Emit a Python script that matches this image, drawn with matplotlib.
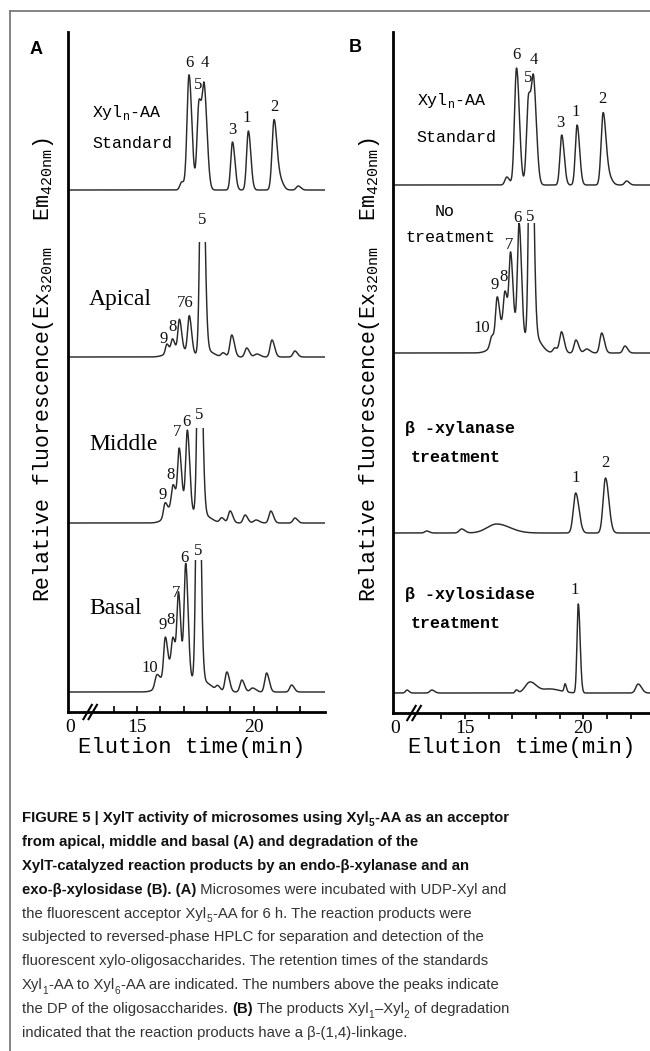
import numpy as np
import matplotlib
matplotlib.use("Agg")
import matplotlib.pyplot as plt
import matplotlib.transforms as mtransforms
from matplotlib.lines import Line2D
from matplotlib.patches import Rectangle
from matplotlib import font_manager

W, H = 650, 1051

# ---------------- peak tables ----------------
# (retention time in min, height in relative units, width in min)
# the last entries of the crowded traces are the broad unresolved hump / tail

# panel A - Xyl_n-AA standard
a_std_t = [16.92, 17.23, 17.66, 17.89, 19.09, 19.77, 20.87, 21.12, 21.90]
a_std_h = [8, 115, 88, 92, 48, 59, 70, 10, 4]
a_std_w = [0.08, 0.085, 0.085, 0.085, 0.075, 0.075, 0.085, 0.10, 0.08]

# panel A - apical
a_api_t = [16.28, 16.52, 16.82, 17.24, 17.78, 18.69, 19.06, 19.70, 20.13, 20.78, 21.76, 16.70, 18.00]
a_api_h = [9, 11, 30, 37, 260, 4, 22, 9, 3, 17, 6, 8, 6]
a_api_w = [0.06, 0.06, 0.065, 0.07, 0.08, 0.08, 0.08, 0.08, 0.10, 0.08, 0.08, 0.35, 0.20]

# panel A - middle
a_mid_t = [16.20, 16.54, 16.81, 17.16, 17.67, 18.63, 18.99, 19.63, 20.10, 20.73, 21.76, 16.75, 17.95]
a_mid_h = [13, 18, 51, 76, 260, 5, 12, 8, 3, 12, 5, 24, 6]
a_mid_w = [0.065, 0.065, 0.065, 0.07, 0.08, 0.08, 0.08, 0.08, 0.10, 0.08, 0.08, 0.35, 0.20]

# panel A - basal
a_bas_t = [15.85, 16.21, 16.54, 16.78, 17.09, 17.61, 18.46, 18.85, 19.49, 19.95, 20.55, 21.62, 16.60, 17.95]
a_bas_h = [12, 36, 25, 71, 108, 300, 5, 20, 12, 4, 19, 7, 30, 8]
a_bas_w = [0.08, 0.065, 0.065, 0.065, 0.07, 0.078, 0.08, 0.08, 0.08, 0.10, 0.08, 0.08, 0.40, 0.20]

# panel B - Xyl_n-AA standard
b_std_t = [16.77, 17.18, 17.69, 17.91, 19.09, 19.74, 20.84, 21.08, 21.83]
b_std_h = [8, 117, 88, 92, 50, 60, 72, 8, 4]
b_std_w = [0.08, 0.085, 0.085, 0.085, 0.075, 0.075, 0.085, 0.10, 0.08]

# panel B - no treatment
b_no_t = [16.13, 16.36, 16.69, 16.93, 17.29, 17.78, 18.80, 19.08, 19.69, 20.14, 20.78, 21.76, 16.80, 18.00]
b_no_h = [9, 38, 31, 69, 108, 300, 5, 21, 13, 4, 20, 7, 32, 12]
b_no_w = [0.07, 0.065, 0.065, 0.065, 0.07, 0.078, 0.08, 0.08, 0.08, 0.10, 0.08, 0.08, 0.40, 0.18]

# panel B - beta-xylanase treatment
b_xyn_t = [13.38, 14.86, 16.34, 19.68, 20.94]
b_xyn_h = [2, 4, 9, 40, 55]
b_xyn_w = [0.08, 0.10, 0.40, 0.10, 0.10]

# panel B - beta-xylosidase treatment
b_xyl_t = [12.55, 13.60, 17.17, 17.75, 18.60, 19.23, 19.79, 22.32]
b_xyl_h = [3, 3, 3, 11, 4, 8, 89, 9]
b_xyl_w = [0.06, 0.08, 0.05, 0.20, 0.30, 0.04, 0.055, 0.10]

# peak number labels: text, time, level
a_std_lab = (["6", "4", "5", "3", "1", "2"],
             [17.23, 17.92, 17.64, 19.09, 19.71, 20.87],
             [649, 649, 627, 582, 594, 605])
a_api_lab = (["9", "8", "76", "5"], [16.13, 16.51, 17.06, 17.79], [373, 385, 409, 492])
a_mid_lab = (["9", "8", "7", "6", "5"], [16.12, 16.46, 16.72, 17.11, 17.66], [217, 237, 280, 290, 297])
a_bas_lab = (["10", "9", "8", "7", "6", "5"],
             [15.53, 16.08, 16.42, 16.68, 17.02, 17.62], [44, 87, 92, 119, 154, 161])
b_std_lab = (["6", "4", "5", "3", "1", "2"],
             [17.18, 17.91, 17.65, 19.01, 19.69, 20.82],
             [658, 653, 635, 590, 601, 614])
b_no_lab = (["10", "9", "8", "7", "6", "5"],
            [15.71, 16.27, 16.62, 16.86, 17.23, 17.75], [385, 428, 436, 468, 495, 496])
b_xyn_lab = (["1", "2"], [19.68, 20.94], [235, 250])
b_xyl_lab = (["1"], [19.65], [123])

sample_a = ["Apical", "Middle", "Basal"]
ticks_min = [14, 15, 16, 17, 18, 19, 20, 21, 22]
tick_txt = ["", "15", "", "", "", "", "20", "", ""]

# ---------------- helpers ----------------
def chrom(t, cen, hgt, wid, tail=1.4):
    y = np.zeros_like(t)
    for c, h, w in zip(cen, hgt, wid):
        s = np.where(t < c, w, w * tail)
        y += h * np.exp(-0.5 * ((t - c) / s) ** 2)
    return y

def px_ax(l, t, r, b):
    return [l / W, 1 - b / H, (r - l) / W, (b - t) / H]

mono = "Liberation Mono"
serif = "Liberation Serif"
line_c = "#2a2a2a"

fig = plt.figure(figsize=(W / 100, H / 100), dpi=100)
fig.patch.set_facecolor("white")

# outer frame of the figure panel
fig.add_artist(Line2D([10 / W, 1], [1 - 11 / H, 1 - 11 / H], color="#7a7a7a", lw=1.3))
fig.add_artist(Line2D([10 / W, 10 / W], [0, 1 - 11 / H], color="#7a7a7a", lw=1.3))


def setup(ax, xlim, ylim, tdir, tpad, brk):
    ax.set_xlim(*xlim)
    ax.set_ylim(*ylim)
    for s in ["top", "right"]:
        ax.spines[s].set_visible(False)
    ax.spines["left"].set_linewidth(2.0)
    ax.spines["bottom"].set_linewidth(2.0)
    ax.set_yticks([])
    ax.set_xticks([xlim[0] + 0.1] + ticks_min)
    ax.set_xticklabels(["0"] + tick_txt, family=serif, fontsize=14)
    ax.tick_params(axis="x", direction=tdir, length=4, width=1.2, pad=tpad)
    ax.xaxis.get_major_ticks()[0].tick1line.set_visible(False)
    tr = mtransforms.blended_transform_factory(ax.transData, ax.transAxes)
    for dx in [-0.11, 0.11]:
        ax.plot([brk + dx - 0.18, brk + dx + 0.18], [-0.0105, 0.0105], transform=tr,
                clip_on=False, color="black", lw=1.5)


def trace(ax, xlim, base, cen, hgt, wid, cap=None, tail=1.4):
    t = np.linspace(xlim[0], xlim[1], 4000)
    y = base + chrom(t, cen, hgt, wid, tail)
    ln, = ax.plot(t, y, color=line_c, lw=1.05)
    if cap is not None:
        ln.set_clip_path(Rectangle((xlim[0], 0), xlim[1] - xlim[0], base + cap,
                                   transform=ax.transData))


def numbers(ax, lab):
    for s, x, y in zip(*lab):
        ax.text(x, y, s, family=serif, fontsize=12, ha="center", va="center", color="#111111")


# ---------------- panel A ----------------
xa = (12.05, 23.05)
ax_a = fig.add_axes(px_ax(68, 32, 325, 712))
setup(ax_a, xa, (0, 680), "in", 5, 13.0)
trace(ax_a, xa, 522, a_std_t, a_std_h, a_std_w)
trace(ax_a, xa, 355, a_api_t, a_api_h, a_api_w, cap=115)
trace(ax_a, xa, 189, a_mid_t, a_mid_h, a_mid_w, cap=95)
trace(ax_a, xa, 20, a_bas_t, a_bas_h, a_bas_w, cap=132)
for lab in [a_std_lab, a_api_lab, a_mid_lab, a_bas_lab]:
    numbers(ax_a, lab)
ax_a.text(13.09, 599, r"Xyl$_\mathregular{n}$-AA", family=mono, fontsize=12, va="center")
ax_a.text(13.09, 568, "Standard", family=mono, fontsize=12, va="center")
for s, y in zip(sample_a, [412, 267, 104]):
    ax_a.text(12.95, y, s, family=serif, fontsize=17, va="center")

# ---------------- panel B ----------------
xb = (11.96, 22.82)
ax_b = fig.add_axes(px_ax(393, 32, 650, 713))
setup(ax_b, xb, (0, 681), "out", 1, 12.85)
trace(ax_b, xb, 528, b_std_t, b_std_h, b_std_w)
trace(ax_b, xb, 360, b_no_t, b_no_h, b_no_w, cap=130)
trace(ax_b, xb, 180, b_xyn_t, b_xyn_h, b_xyn_w)
trace(ax_b, xb, 20, b_xyl_t, b_xyl_h, b_xyl_w)
for lab in [b_std_lab, b_no_lab, b_xyn_lab, b_xyl_lab]:
    numbers(ax_b, lab)
ax_b.text(12.96, 613, r"Xyl$_\mathregular{n}$-AA", family=mono, fontsize=12, va="center")
ax_b.text(12.96, 576, "Standard", family=mono, fontsize=12, va="center")
ax_b.text(14.15, 501, "No", family=mono, fontsize=12, va="center", ha="center")
ax_b.text(14.37, 475, "treatment", family=mono, fontsize=12, va="center", ha="center")
ax_b.text(12.47, 284, "β -xylanase", family=mono, fontsize=12, va="center", weight="bold")
ax_b.text(12.71, 256, "treatment", family=mono, fontsize=12, va="center", weight="bold")
ax_b.text(12.47, 118, "β -xylosidase", family=mono, fontsize=12, va="center", weight="bold")
ax_b.text(12.71, 90, "treatment", family=mono, fontsize=12, va="center", weight="bold")

# axis titles and panel letters
ylab = r"Relative fluorescence(Ex$_\mathregular{320nm}$  Em$_\mathregular{420nm}$)"
for xc in [44, 369]:
    fig.text(xc / W, 1 - 370 / H, ylab, family=mono, fontsize=15.5, rotation=90,
             ha="center", va="center")
for xc in [192, 522]:
    fig.text(xc / W, 1 - 747 / H, "Elution time(min)", family=mono, fontsize=16,
             ha="center", va="center")
fig.text(36 / W, 1 - 49 / H, "A", family="Liberation Sans", weight="bold", fontsize=13,
         ha="center", va="center")
fig.text(355 / W, 1 - 48 / H, "B", family="Liberation Sans", weight="bold", fontsize=13,
         ha="center", va="center")

# ---------------- caption ----------------
names = {f.name for f in font_manager.fontManager.ttflist}
cap_font = "Liberation Sans Narrow" if "Liberation Sans Narrow" in names else "Liberation Sans"
cap_fam = [cap_font, "DejaVu Sans"]

caption = [
    [("FIGURE 5 | XylT activity of microsomes using Xyl", 1, 0), ("5", 1, 1), ("-AA as an acceptor", 1, 0)],
    [("from apical, middle and basal (A) and degradation of the", 1, 0)],
    [("XylT-catalyzed reaction products by an endo-β-xylanase and an", 1, 0)],
    [("exo-β-xylosidase (B). (A)", 1, 0), (" Microsomes were incubated with UDP-Xyl and", 0, 0)],
    [("the fluorescent acceptor Xyl", 0, 0), ("5", 0, 1), ("-AA for 6 h. The reaction products were", 0, 0)],
    [("subjected to reversed-phase HPLC for separation and detection of the", 0, 0)],
    [("fluorescent xylo-oligosaccharides. The retention times of the standards", 0, 0)],
    [("Xyl", 0, 0), ("1", 0, 1), ("-AA to Xyl", 0, 0), ("6", 0, 1),
     ("-AA are indicated. The numbers above the peaks indicate", 0, 0)],
    [("the DP of the oligosaccharides. ", 0, 0), ("(B)", 1, 0), (" The products Xyl", 0, 0), ("1", 0, 1),
     ("–Xyl", 0, 0), ("2", 0, 1), (" of degradation", 0, 0)],
    [("indicated that the reaction products have a β-(1,4)-linkage.", 0, 0)],
]

renderer = fig.canvas.get_renderer()
probe = fig.text(0, 0, caption[5][0][0], family=cap_fam, fontsize=10)
pw = probe.get_window_extent(renderer).width
probe.remove()
cap_size = 10 * 463 / pw

for i, runs in enumerate(caption):
    x = 22
    base = 822 + 23.9 * i
    for txt, bold, sub in runs:
        fs = cap_size * 0.68 if sub else cap_size
        yb = base + (cap_size * 0.3 * 100 / 72 if sub else 0)
        tx = fig.text(x / W, 1 - yb / H, txt, family=cap_fam, fontsize=fs,
                      weight="bold" if bold else "normal",
                      color="#111111" if bold else "#333333", va="baseline", ha="left")
        x = tx.get_window_extent(renderer).x1 + (1 if sub else 0)

fig.savefig("out.png", dpi=100, facecolor="white")
